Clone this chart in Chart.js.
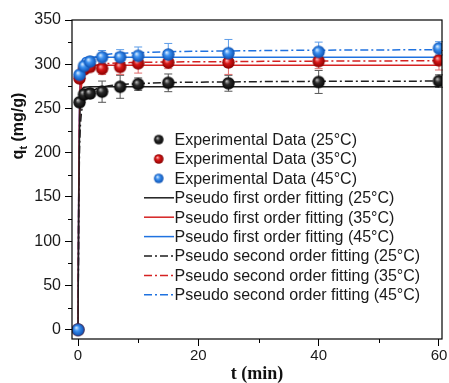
<!DOCTYPE html>
<html>
<head>
<meta charset="utf-8">
<script src="https://cdn.jsdelivr.net/npm/chart.js@4.4.1/dist/chart.umd.min.js"></script>
<style>
  html, body { margin: 0; padding: 0; background: #fff; }
  #wrap { width: 449px; height: 383px; }
</style>
</head>
<body>
<div id="wrap"><canvas id="kinChart"></canvas></div>
<script>
// 实验数据 (t / min, qt / mg/g)
const times = [0, 0.25, 1, 2, 4, 7, 10, 15, 25, 40, 60];
const exp25 = [0, 257, 266, 267, 269, 274.5, 277.5, 279, 278.5, 280, 281];
const exp35 = [0, 284, 294, 297, 295, 297, 301, 302, 302, 303.5, 304.5];
const exp45 = [0, 288, 298, 303, 308, 308, 309.5, 311, 312.5, 314, 318];
const err25 = [0, 4, 5, 5, 12, 13, 7, 10, 9, 13, 7];
const err35 = [0, 4, 4, 5, 6.5, 8.5, 11, 7, 13.5, 8.5, 11];
const err45 = [0, 4, 4, 5, 7.5, 8.5, 10, 12.5, 15.5, 11, 7.5];

// 拟合曲线
const fitTimes = [0, 0.1, 0.2, 0.3, 0.5, 1, 2, 4, 10, 25, 60];
const pfo25 = [0, 120, 200, 240, 265, 274, 274.5, 274.5, 274.5, 274.5, 274.5];
const pfo35 = [0, 140, 225, 265, 290, 298.5, 299, 299, 299, 299, 299];
const pfo45 = [0, 140, 230, 270, 295, 307, 307.8, 307.8, 307.8, 307.8, 307.8];
const pso25 = [0, 110, 180, 215, 240, 258, 268, 274, 278, 280, 281];
const pso35 = [0, 130, 210, 245, 270, 288, 296, 300, 302, 303, 304];
const pso45 = [0, 130, 215, 250, 278, 296, 305, 310, 313, 315, 316.5];

const xTicks = [0, 20, 40, 60];
const xMinor = [10, 30, 50];
const yTicks = [0, 50, 100, 150, 200, 250, 300, 350];
const yMinor = [25, 75, 125, 175, 225, 275, 325];

const legendLabels = [
  'Experimental Data (25°C)',
  'Experimental Data (35°C)',
  'Experimental Data (45°C)',
  'Pseudo first order fitting (25°C)',
  'Pseudo first order fitting (35°C)',
  'Pseudo first order fitting (45°C)',
  'Pseudo second order fitting (25°C)',
  'Pseudo second order fitting (35°C)',
  'Pseudo second order fitting (45°C)'
];

const BLACK = '#1e1e1e';
const RED = '#d52222';
const BLUE = '#1f72e0';
const DASHDOT = [8, 3, 2, 3];
const FONT = '"Liberation Sans", Arial, sans-serif';

// 3D 小球
function makeBall(r, light, mid, dark) {
  const c = document.createElement('canvas');
  c.width = c.height = Math.ceil(r * 2 + 2);
  const g = c.getContext('2d');
  const cx = c.width / 2;
  const grad = g.createRadialGradient(cx - r * 0.3, cx - r * 0.35, r * 0.05, cx, cx, r);
  grad.addColorStop(0, light);
  grad.addColorStop(0.4, mid);
  grad.addColorStop(1, dark);
  g.fillStyle = grad;
  g.beginPath();
  g.arc(cx, cx, r, 0, Math.PI * 2);
  g.fill();
  return c;
}

const balls = {
  black: makeBall(6.2, '#bdbdbd', '#2a2a2a', '#050505'),
  red: makeBall(6.2, '#ffb0b0', '#d81818', '#8a0000'),
  blue: makeBall(6.2, '#d8ecff', '#3a8ff0', '#0b4fb0')
};
const smallBalls = {
  black: makeBall(4.8, '#bdbdbd', '#2a2a2a', '#050505'),
  red: makeBall(4.8, '#ffb0b0', '#d81818', '#8a0000'),
  blue: makeBall(4.8, '#d8ecff', '#3a8ff0', '#0b4fb0')
};

function toXY(xs, ys) {
  return xs.map((x, i) => ({ x: x, y: ys[i] }));
}

function fitSet(data, color, dash) {
  return {
    data: toXY(fitTimes, data),
    borderColor: color,
    borderWidth: 1.5,
    borderDash: dash,
    pointRadius: 0,
    fill: false,
    cubicInterpolationMode: 'monotone',
    order: 5
  };
}

function expSet(data, ball, errs, errColor, order) {
  return {
    data: toXY(times, data),
    showLine: false,
    pointStyle: ball,
    pointRadius: 6,
    errs: errs,
    errColor: errColor,
    order: order
  };
}

// 误差棒
const errorBars = {
  id: 'errorBars',
  beforeDatasetsDraw(chart) {
    const ctx = chart.ctx;
    const y = chart.scales.y;
    chart.data.datasets.forEach((ds, i) => {
      if (!ds.errs) return;
      const meta = chart.getDatasetMeta(i);
      ctx.save();
      ctx.strokeStyle = ds.errColor;
      ctx.lineWidth = 1;
      meta.data.forEach((pt, j) => {
        const e = ds.errs[j];
        if (!e) return;
        const v = ds.data[j].y;
        const top = y.getPixelForValue(v + e);
        const bot = y.getPixelForValue(v - e);
        ctx.beginPath();
        ctx.moveTo(pt.x, top); ctx.lineTo(pt.x, bot);
        ctx.moveTo(pt.x - 4, top); ctx.lineTo(pt.x + 4, top);
        ctx.moveTo(pt.x - 4, bot); ctx.lineTo(pt.x + 4, bot);
        ctx.stroke();
      });
      ctx.restore();
    });
  }
};

// 边框、次刻度、坐标轴标题、图例
const decorations = {
  id: 'decorations',
  afterDraw(chart) {
    const ctx = chart.ctx;
    const a = chart.chartArea;
    const xs = chart.scales.x;
    const ys = chart.scales.y;
    ctx.save();
    ctx.strokeStyle = '#000';
    ctx.lineWidth = 1.2;
    ctx.strokeRect(a.left, a.top, a.right - a.left, a.bottom - a.top);

    ctx.lineWidth = 1;
    ctx.beginPath();
    yMinor.forEach(v => {
      const p = Math.round(ys.getPixelForValue(v)) + 0.5;
      ctx.moveTo(a.left - 4, p); ctx.lineTo(a.left, p);
    });
    xMinor.forEach(v => {
      const p = Math.round(xs.getPixelForValue(v)) + 0.5;
      ctx.moveTo(p, a.bottom); ctx.lineTo(p, a.bottom + 4);
    });
    ctx.stroke();

    // x 轴标题
    ctx.fillStyle = '#111';
    ctx.font = 'bold 18px "Liberation Serif", "Times New Roman", serif';
    ctx.textAlign = 'center';
    ctx.textBaseline = 'middle';
    ctx.fillText('t (min)', (a.left + a.right) / 2, 374);

    // y 轴标题 (q 下标 t)
    ctx.save();
    ctx.translate(23, 126);
    ctx.rotate(-Math.PI / 2);
    ctx.textAlign = 'left';
    ctx.textBaseline = 'alphabetic';
    const big = 'bold 16px ' + FONT;
    const sub = 'bold 11px ' + FONT;
    ctx.font = big;
    const wq = ctx.measureText('q').width;
    const wr = ctx.measureText(' (mg/g)').width;
    ctx.font = sub;
    const wt = ctx.measureText('t').width;
    let x0 = -(wq + wt + wr) / 2;
    ctx.font = big;
    ctx.fillText('q', x0, 0);
    ctx.font = sub;
    ctx.fillText('t', x0 + wq, 4);
    ctx.font = big;
    ctx.fillText(' (mg/g)', x0 + wq + wt, 0);
    ctx.restore();

    // 图例
    const rowY0 = 139.6;
    const rowH = 19.4;
    ctx.font = '16px ' + FONT;
    ctx.textAlign = 'left';
    ctx.textBaseline = 'middle';
    const ballKeys = ['black', 'red', 'blue'];
    const colors = [BLACK, RED, BLUE];
    legendLabels.forEach((txt, i) => {
      const yy = rowY0 + i * rowH;
      if (i < 3) {
        const b = smallBalls[ballKeys[i]];
        ctx.drawImage(b, 158.7 - b.width / 2, yy - b.height / 2);
      } else {
        ctx.strokeStyle = colors[i % 3];
        ctx.lineWidth = 1.5;
        ctx.setLineDash(i >= 6 ? DASHDOT : []);
        ctx.beginPath();
        ctx.moveTo(144, yy); ctx.lineTo(174, yy);
        ctx.stroke();
        ctx.setLineDash([]);
      }
      ctx.fillStyle = '#1a1a1a';
      ctx.fillText(txt, 174.5, yy + 1);
    });
    ctx.restore();
  }
};

function initChart() {
  const ctx = document.getElementById('kinChart').getContext('2d');
  new Chart(ctx, {
    type: 'line',
    data: {
      datasets: [
        fitSet(pfo25, BLACK, []),
        fitSet(pfo35, RED, []),
        fitSet(pfo45, BLUE, []),
        fitSet(pso25, BLACK, DASHDOT),
        fitSet(pso35, RED, DASHDOT),
        fitSet(pso45, BLUE, DASHDOT),
        expSet(exp25, balls.black, err25, '#555555', 3),
        expSet(exp35, balls.red, err35, '#e06a6a', 2),
        expSet(exp45, balls.blue, err45, '#5c9ce8', 1)
      ]
    },
    options: {
      responsive: true,
      maintainAspectRatio: false,
      animation: false,
      layout: { padding: { top: 20, right: 7, left: 0, bottom: 0 } },
      scales: {
        x: {
          type: 'linear',
          min: -1,
          max: 60.5,
          afterBuildTicks: s => { s.ticks = xTicks.map(v => ({ value: v })); },
          afterFit: s => { s.height = 44; },
          grid: { drawOnChartArea: false, drawTicks: true, tickLength: 7, color: '#000' },
          border: { display: false },
          ticks: { color: '#1a1a1a', font: { size: 15, family: FONT }, padding: 1, maxRotation: 0 }
        },
        y: {
          min: -10.5,
          max: 350,
          afterBuildTicks: s => { s.ticks = yTicks.map(v => ({ value: v })); },
          afterFit: s => { s.width = 72; },
          grid: { drawOnChartArea: false, drawTicks: true, tickLength: 7, color: '#000' },
          border: { display: false },
          ticks: { color: '#1a1a1a', font: { size: 16, family: FONT }, padding: 4 }
        }
      },
      plugins: {
        legend: { display: false },
        tooltip: { enabled: false }
      }
    },
    plugins: [errorBars, decorations]
  });
}

document.addEventListener('DOMContentLoaded', initChart);
</script>
</body>
</html>
